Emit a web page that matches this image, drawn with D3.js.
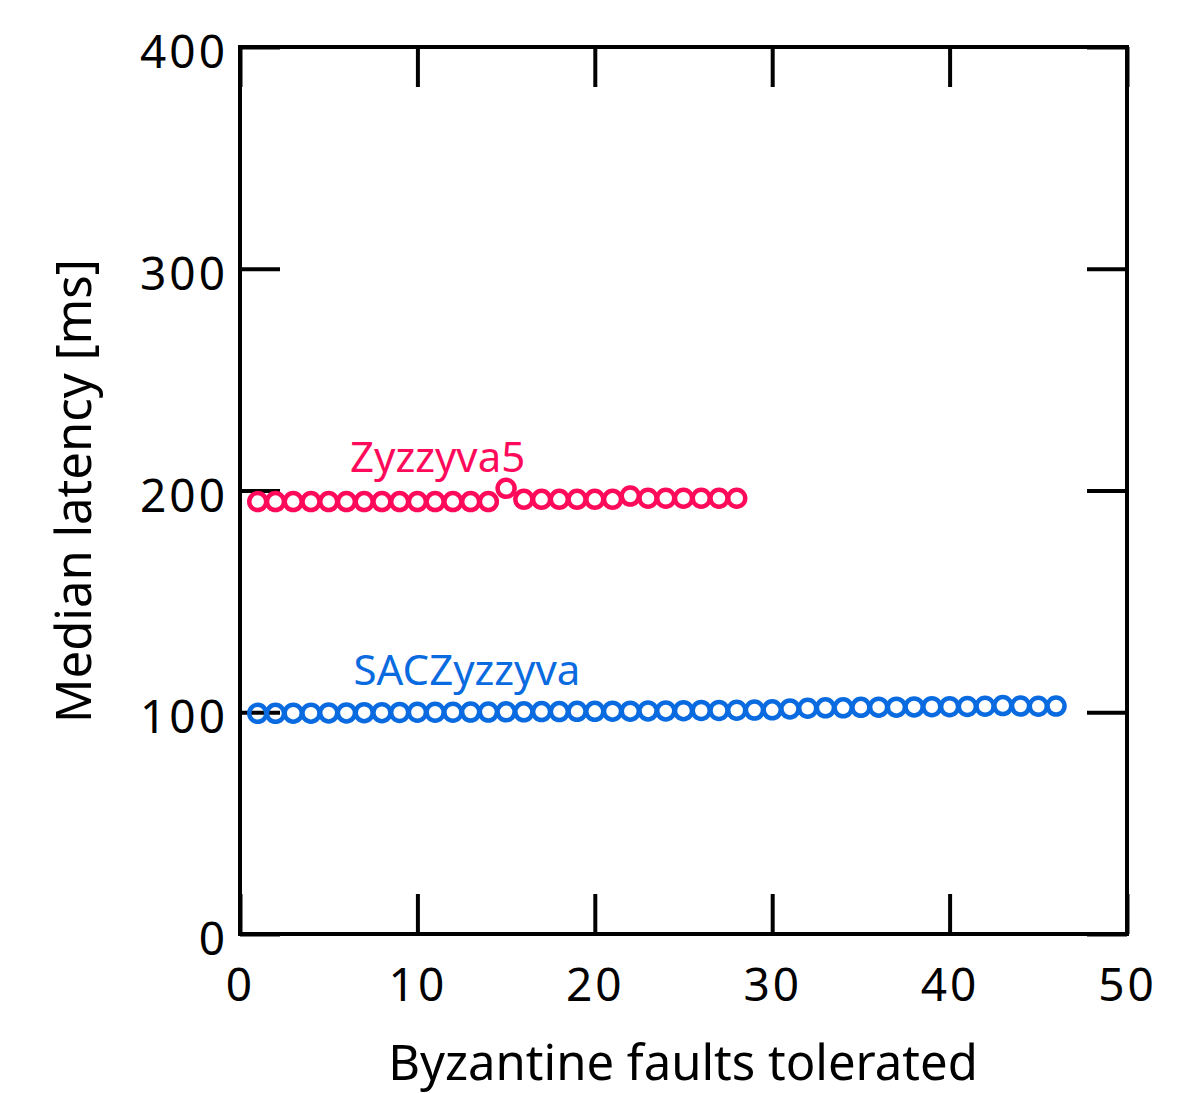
<!DOCTYPE html>
<html><head><meta charset="utf-8">
<script src="https://cdn.jsdelivr.net/npm/d3@7"></script>
<style>body{margin:0;background:#fff}text{font-family:"Noto Sans","Open Sans",sans-serif}</style>
</head><body><svg id="c" width="1200" height="1093"></svg>
<script>
const xTicks = [0,10,20,30,40,50];
const yTicks = [0,100,200,300,400];
const zyzX = d3.range(1,29);
const zyzY = [195,195,195,195,195,195,195,195,195,195,195,195,195,195,201,196,196,196,196,196,196,197.5,196.5,196.5,196.5,196.5,196.5,196.5];
const sacX = d3.range(1,47);
const sacY = [99.5,99.5,99.6,99.6,99.7,99.7,99.8,99.8,99.9,100,100,100,100.1,100.1,100.2,100.2,100.3,100.3,100.4,100.4,100.5,100.5,100.6,100.6,100.7,100.8,100.8,100.9,101,101.1,101.5,101.8,102,102,102.2,102.3,102.3,102.4,102.5,102.5,102.6,102.7,103,102.8,102.7,102.8];
const seriesNames = ["Zyzzyva5","SACZyzzyva"];
const colors = ["#ff0a5a","#0a6be0"];

const L=240,R=1127,T=47,B=934;
const svg=d3.select("#c");
const x=d3.scaleLinear().domain([0,50]).range([L,R]);
const y=d3.scaleLinear().domain([0,400]).range([B,T]);
const tl=40;
const g=svg.append("g");
const gx=g.append("g").attr("transform",`translate(0,${B})`).call(d3.axisBottom(x).tickValues(xTicks).tickSize(-tl).tickPadding(34).tickFormat(d3.format("d")));
g.append("g").attr("transform",`translate(0,${T})`).call(d3.axisTop(x).tickValues(xTicks).tickSize(-tl).tickFormat(""));
const gy=g.append("g").attr("transform",`translate(${L},0)`).call(d3.axisLeft(y).tickValues(yTicks).tickSize(-tl).tickPadding(12).tickFormat(d3.format("d")));
g.append("g").attr("transform",`translate(${R},0)`).call(d3.axisRight(y).tickValues(yTicks).tickSize(-tl).tickFormat(""));
g.selectAll(".domain").remove();
g.selectAll(".tick line").attr("stroke","#000").attr("stroke-width",4);
g.selectAll(".tick text").attr("font-size",46).attr("fill","#000").attr("font-family","Noto Sans").attr("letter-spacing",3);
gy.selectAll(".tick text").attr("dy","0.45em");
svg.append("rect").attr("x",L).attr("y",T).attr("width",R-L).attr("height",B-T).attr("fill","none").attr("stroke","#000").attr("stroke-width",4);

const data=[zyzX.map((d,i)=>[d,zyzY[i]]), sacX.map((d,i)=>[d,sacY[i]])];
data.forEach((s,k)=>{
  svg.append("g").selectAll("circle").data(s).join("circle")
    .attr("cx",d=>x(d[0])).attr("cy",d=>y(d[1])).attr("r",8.5)
    .attr("fill","none").attr("stroke",colors[k]).attr("stroke-width",4.5);
});
svg.append("text").attr("x",x(6.2)).attr("y",472).attr("font-size",42).attr("fill",colors[0]).text(seriesNames[0]);
svg.append("text").attr("x",x(6.4)).attr("y",685).attr("font-size",42).attr("fill",colors[1]).text(seriesNames[1]);
svg.append("text").attr("x",683).attr("y",1080).attr("text-anchor","middle").attr("font-size",49).text("Byzantine faults tolerated");
svg.append("text").attr("transform",`translate(91,491) rotate(-90)`).attr("text-anchor","middle").attr("font-size",49).text("Median latency [ms]");
</script></body></html>
